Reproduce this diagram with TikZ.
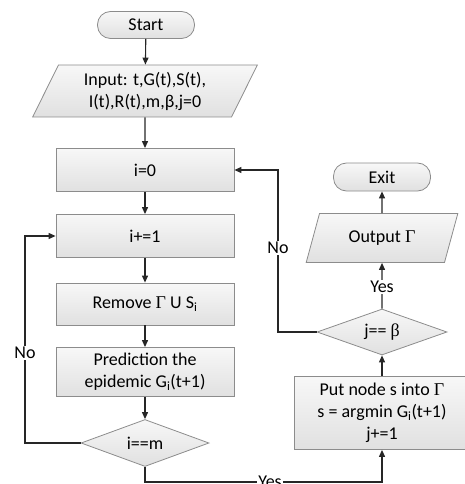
\documentclass[tikz,border=0pt]{standalone}
\usepackage{fontspec}
\setmainfont{Carlito}
\newfontfamily\grfont{Liberation Serif}
\usepgflibrary{arrows.meta,shapes.geometric}

\begin{document}
\begin{tikzpicture}[x=1bp,y=-1bp,
    font=\fontsize{18bp}{22bp}\selectfont,
    box/.style={draw=black!45,line width=.8bp,top color=black!3,bottom color=black!12,
      minimum width=178bp,align=center,inner sep=2bp},
    term/.style={box,rounded corners=13bp,minimum width=97bp,minimum height=27bp},
    io/.style={box,trapezium,trapezium left angle=66,trapezium right angle=114,trapezium stretches=true},
    cond/.style={box,diamond,aspect=2.7,inner sep=1bp,minimum width=128bp,minimum height=47bp},
    flow/.style={draw=black!85,line width=1.1bp,-{Triangle[length=7bp,width=6bp]}},
    lbl/.style={fill=white,inner sep=1bp}]
    \useasboundingbox (0,0) rectangle (465,484);

    % left column
    \node[term] (start) at (146,25) {Start};
    \node[io,minimum width=225bp,minimum height=52bp] (input) at (145,91) {Input: t,G(t),S(t),\\I(t),R(t),m,β,j=0};
    \node[box,minimum height=43bp] (init) at (145,170) {i=0};
    \node[box,minimum height=43bp] (inc) at (145,236) {i+=1};
    \node[box,minimum height=42bp] (remove) at (145,304) {Remove {\grfont Γ} U S\textsubscript{i}};
    \node[box,minimum height=49bp] (predict) at (145,372) {Prediction the\\epidemic G\textsubscript{i}(t+1)};
    \node[cond] (ism) at (145,443) {i==m};

    % right column
    \node[box,minimum width=176bp,minimum height=73bp] (put) at (382,413) {Put node s into {\grfont Γ}\\s = argmin G\textsubscript{i}(t+1)\\j+=1};
    \node[cond,minimum width=130bp,minimum height=46bp] (jb) at (382,332) {j== {\grfont β}};
    \node[io,minimum width=153bp,minimum height=49bp,trapezium left angle=68,trapezium right angle=112] (output) at (382,238) {Output {\grfont Γ}};
    \node[term,minimum height=28bp] (exit) at (382,177) {Exit};

    \coordinate (lft) at (25,353);
    \coordinate (rgt) at (278,248);
    \coordinate (bot) at (270,482);

    \draw[flow] (start) -- (input);
    \draw[flow] (input) -- (init);
    \draw[flow] (init) -- (inc);
    \draw[flow] (inc) -- (remove);
    \draw[flow] (remove) -- (predict);
    \draw[flow] (predict) -- (ism);
    \draw[flow] (ism.west) -| (lft) |- (inc.west);
    \draw[flow] (ism.south) |- (bot) -| (put.south);
    \draw[flow] (put) -- (jb);
    \draw[flow] (jb.west) -| (rgt) |- (init.east);
    \draw[flow] (jb) -- (output);
    \draw[flow] (output) -- (exit);

    \node[lbl] (no1) at (lft) {No};
    \node[lbl] (no2) at (rgt) {No};
    \node[lbl] (yes1) at (bot) {Yes};
    \node[lbl] (yes2) at (382,287) {Yes};
  \end{tikzpicture}
\end{document}
